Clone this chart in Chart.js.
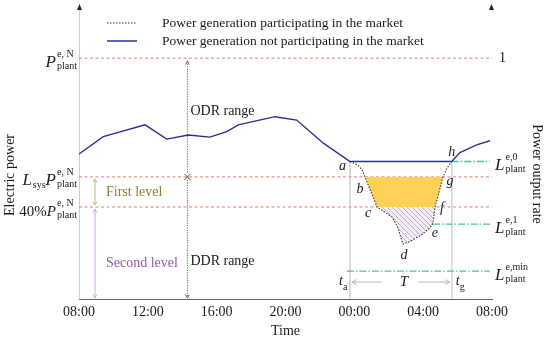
<!DOCTYPE html>
<html><head><meta charset="utf-8">
<script src="https://cdn.jsdelivr.net/npm/chart.js@4"></script>
<style>html,body{margin:0;padding:0;background:#fff}</style>
</head><body>
<canvas id="c" width="550" height="340"></canvas>
<script>
// ---------- data ----------
const timeTickLabels = ['08:00','12:00','16:00','20:00','00:00','04:00','08:00'];
// hours after 08:00 and output rate (P / P_plant^{e,N})
const baseTimes = [0, 1.41, 3.84, 5.10, 6.35, 7.61, 8.58, 9.26, 11.39, 12.65, 14.2, 15.75, 21.66, 22.14, 23.11, 23.88];
const baseRates = [0.602, 0.674, 0.723, 0.664, 0.681, 0.672, 0.695, 0.723, 0.757, 0.743, 0.647, 0.571, 0.571, 0.608, 0.640, 0.657];
const marketTimes = [15.75, 16.21, 16.45, 16.62, 17.32, 17.67, 18.19, 18.54, 18.71, 18.83, 19.24, 19.82, 20.40, 20.57, 20.63, 20.69, 20.92, 21.15, 21.39, 21.66];
const marketRates = [0.571, 0.556, 0.536, 0.507, 0.382, 0.365, 0.341, 0.295, 0.253, 0.228, 0.239, 0.262, 0.295, 0.316, 0.349, 0.382, 0.444, 0.507, 0.544, 0.571];
const keyPointNames = ['a','b','c','d','e','f','g','h'];
const keyPointIndex = [0, 3, 4, 9, 13, 15, 17, 19];
const ratedLevel = 1.0;
const lsysLevel = 0.507;
const fortyLevel = 0.382;
const le0Level = 0.571;
const le1Level = 0.311;
const leMinLevel = 0.116;
const odrTime = 6.3;
const levelArrowTime = 0.93;
const leMinStart = 15.57;
const greenEnd = 23.88;
const axisMax = 24;

// ---------- helpers ----------
const SERIF = '"Liberation Serif","Times New Roman",serif';
const F = (s, it) => (it ? 'italic ' : '') + s + 'px ' + SERIF;
const pts = (xs, ys) => xs.map((x, i) => ({x, y: ys[i]}));
const hline = (y, x0, x1) => [{x: x0, y}, {x: x1, y}];
const vline = (x, y0, y1) => [{x, y: y0}, {x, y: y1}];
const K = {};
keyPointNames.forEach((n, i) => K[n] = keyPointIndex[i]);
const marketPts = pts(marketTimes, marketRates);
const yellowPts = marketPts.slice(K.b, K.c + 1).concat(marketPts.slice(K.f, K.g + 1));
const hatchPts = marketPts.slice(K.c, K.f + 1);
const tA = marketTimes[0], tG = marketTimes[marketTimes.length - 1];

// hatch pattern
const pc = document.createElement('canvas'); pc.width = 5; pc.height = 5;
const pg = pc.getContext('2d');
pg.fillStyle = '#f4eff7'; pg.fillRect(0, 0, 5, 5);
pg.strokeStyle = '#c3abd2'; pg.lineWidth = 1;
for (let k = -1; k <= 1; k++) { pg.beginPath(); pg.moveTo(k * 5, 0); pg.lineTo(k * 5 + 5, 5); pg.stroke(); }
const hatch = document.getElementById('c').getContext('2d').createPattern(pc, 'repeat');

const BLUE = '#2a2f8f';
const RED = '#e07d7d';
const GREEN = '#3cc9a0';
const base = {pointRadius: 0, tension: 0, fill: false};

function seg(ctx, x1, y1, x2, y2) { ctx.beginPath(); ctx.moveTo(x1, y1); ctx.lineTo(x2, y2); ctx.stroke(); }
function head(ctx, x, y, ang, len) {
  const a1 = ang + Math.PI - 0.5, a2 = ang + Math.PI + 0.5;
  ctx.beginPath();
  ctx.moveTo(x + len * Math.cos(a1), y + len * Math.sin(a1));
  ctx.lineTo(x, y);
  ctx.lineTo(x + len * Math.cos(a2), y + len * Math.sin(a2));
  ctx.stroke();
}
function drawSym(ctx, x, lineY, parts, align, ms, ss) {
  ms = ms || 17; ss = ss || 10;
  const w = parts.map(p => {
    ctx.font = F(ms, p.it); const mw = ctx.measureText(p.m).width;
    ctx.font = F(ss, false);
    let ex = 0;
    if (p.sup || p.sub) ex = Math.max(p.sup ? ctx.measureText(p.sup).width : 0, p.sub ? ctx.measureText(p.sub).width : 0) + (p.it ? 1 : 0.5);
    return {mw, ex};
  });
  const total = w.reduce((a, b) => a + b.mw + b.ex, 0);
  let cx = align === 'right' ? x - total : x;
  const bl = lineY + 8.5;
  ctx.textAlign = 'left'; ctx.textBaseline = 'alphabetic';
  parts.forEach((p, i) => {
    ctx.font = F(ms, p.it); ctx.fillText(p.m, cx, bl);
    const sx = cx + w[i].mw + (p.it ? 1 : 0.5);
    ctx.font = F(ss, false);
    if (p.sup) ctx.fillText(p.sup, sx, bl - 10);
    if (p.sub) ctx.fillText(p.sub, sx, bl + (p.sup ? 2 : 3));
    cx += w[i].mw + w[i].ex;
  });
}

const annot = {
  id: 'annot',
  beforeDatasetsDraw(chart) {
    const {ctx, chartArea: ca} = chart;
    ctx.save();
    ctx.strokeStyle = '#cfcfcf'; ctx.lineWidth = 1;
    seg(ctx, ca.left + 0.5, ca.top - 4, ca.left + 0.5, ca.bottom);
    ctx.restore();
  },
  afterDraw(chart) {
    const {ctx, chartArea: ca, scales: {x: xs, y: ys}} = chart;
    const X = v => xs.getPixelForValue(v), Y = v => ys.getPixelForValue(v);
    ctx.save();
    // axis arrow tips
    ctx.fillStyle = '#222';
    [ca.left + 0.5, ca.right - 0.5].forEach(px => {
      ctx.beginPath(); ctx.moveTo(px, ca.top - 6); ctx.lineTo(px - 2.5, ca.top); ctx.lineTo(px + 2.5, ca.top); ctx.closePath(); ctx.fill();
    });
    // legend
    const lx = 107;
    ctx.lineWidth = 1.1; ctx.strokeStyle = '#333'; ctx.setLineDash([1.5, 1.5]);
    seg(ctx, lx, 23, lx + 30, 23);
    ctx.setLineDash([]); ctx.strokeStyle = BLUE; ctx.lineWidth = 1.5;
    seg(ctx, lx, 41, lx + 30, 41);
    ctx.fillStyle = '#1a1a1a'; ctx.font = F(13.5); ctx.textAlign = 'left'; ctx.textBaseline = 'middle';
    ctx.fillText('Power generation participating in the market', 162, 23);
    ctx.fillText('Power generation not participating in the market', 162, 41);

    // ODR / DDR arrows
    const ox = X(odrTime);
    ctx.strokeStyle = '#555'; ctx.lineWidth = 0.9; ctx.setLineDash([1.2, 1.3]);
    seg(ctx, ox, Y(ratedLevel) + 3, ox, Y(lsysLevel) - 3);
    seg(ctx, ox, Y(lsysLevel) + 3, ox, ca.bottom - 1);
    ctx.setLineDash([]);
    head(ctx, ox, Y(ratedLevel) + 3, -Math.PI / 2, 4);
    head(ctx, ox, ca.bottom - 1, Math.PI / 2, 4);
    ctx.strokeStyle = '#333';
    const cy = Y(lsysLevel);
    seg(ctx, ox - 3, cy - 3, ox + 3, cy + 3); seg(ctx, ox - 3, cy + 3, ox + 3, cy - 3);
    ctx.fillStyle = '#1a1a1a'; ctx.font = F(14); ctx.textBaseline = 'middle';
    ctx.fillText('ODR range', ox + 3, Y(0.78));
    ctx.fillText('DDR range', ox + 3, Y(0.155));

    // level arrows
    const lvx = X(levelArrowTime);
    ctx.strokeStyle = '#c2b784'; ctx.lineWidth = 1;
    seg(ctx, lvx, Y(lsysLevel) + 2, lvx, Y(fortyLevel) - 2);
    head(ctx, lvx, Y(lsysLevel) + 2, -Math.PI / 2, 4); head(ctx, lvx, Y(fortyLevel) - 2, Math.PI / 2, 4);
    ctx.strokeStyle = '#cda6dc';
    seg(ctx, lvx, Y(fortyLevel) + 2, lvx, ca.bottom - 1);
    head(ctx, lvx, Y(fortyLevel) + 2, -Math.PI / 2, 4); head(ctx, lvx, ca.bottom - 1, Math.PI / 2, 4);
    ctx.font = F(14);
    ctx.fillStyle = '#8c7b3a';
    ctx.fillText('First level', lvx + 11, (Y(lsysLevel) + Y(fortyLevel)) / 2);
    ctx.fillStyle = '#9656aa';
    ctx.fillText('Second level', lvx + 11, (Y(fortyLevel) + ca.bottom) / 2 + 10);

    // point letters
    const off = {a: [-7.5, 5], b: [-5, 12], c: [-9, 6], d: [1, 11], e: [2, 10], f: [7, 1], g: [7, 4], h: [0, -9]};
    ctx.fillStyle = '#1a1a1a'; ctx.font = F(14, true); ctx.textAlign = 'center';
    keyPointNames.forEach(n => {
      const p = marketPts[K[n]];
      ctx.fillText(n, X(p.x) + off[n][0], Y(p.y) + off[n][1]);
    });

    // T arrow
    const ty = Y(leMinLevel) + 11;
    const xa = X(tA) + 2, xg = X(tG) - 2, xm = (X(tA) + X(tG)) / 2 + 3;
    ctx.strokeStyle = '#b0b0b0'; ctx.lineWidth = 0.9;
    seg(ctx, xa, ty, xm - 22, ty); seg(ctx, xm + 14, ty, xg, ty);
    head(ctx, xa, ty, Math.PI, 5); head(ctx, xg, ty, 0, 5);
    ctx.font = F(15, true); ctx.fillStyle = '#1a1a1a';
    ctx.fillText('T', xm, ty);
    // t_a, t_g
    ctx.textAlign = 'left';
    ctx.font = F(14, true); ctx.fillText('t', X(tA) - 11, ty - 1);
    ctx.font = F(10); ctx.fillText('a', X(tA) - 7, ty + 5);
    ctx.font = F(14, true); ctx.fillText('t', X(tG) + 4, ty - 1);
    ctx.font = F(10); ctx.fillText('g', X(tG) + 8, ty + 5);

    // left labels
    ctx.fillStyle = '#1a1a1a';
    drawSym(ctx, ca.left - 2, Y(ratedLevel), [{m: 'P', it: true, sup: 'e, N', sub: 'plant'}], 'right');
    drawSym(ctx, ca.left - 2, Y(lsysLevel), [{m: 'L', it: true, sub: 'sys'}, {m: 'P', it: true, sup: 'e, N', sub: 'plant'}], 'right');
    drawSym(ctx, ca.left - 2, Y(fortyLevel), [{m: '40%', it: false}, {m: 'P', it: true, sup: 'e, N', sub: 'plant'}], 'right', 15);
    // right labels
    const rx = X(axisMax) + 3;
    ctx.font = F(14); ctx.textAlign = 'left'; ctx.textBaseline = 'middle';
    ctx.fillText('1', rx + 4, Y(ratedLevel));
    drawSym(ctx, rx, Y(le0Level), [{m: 'L', it: true, sup: 'e,0', sub: 'plant'}], 'left');
    drawSym(ctx, rx, Y(le1Level), [{m: 'L', it: true, sup: 'e,1', sub: 'plant'}], 'left');
    drawSym(ctx, rx, Y(leMinLevel), [{m: 'L', it: true, sup: 'e,min', sub: 'plant'}], 'left');

    // axis titles
    ctx.font = F(14); ctx.textAlign = 'center'; ctx.textBaseline = 'middle'; ctx.fillStyle = '#1a1a1a';
    ctx.save(); ctx.translate(10, 175); ctx.rotate(-Math.PI / 2); ctx.fillText('Electric power', 0, 0); ctx.restore();
    ctx.save(); ctx.translate(537, 174); ctx.rotate(Math.PI / 2); ctx.fillText('Power output rate', 0, 0); ctx.restore();
    ctx.restore();
  }
};

new Chart(document.getElementById('c'), {
  type: 'line',
  data: {
    datasets: [
      {...base, label: 'Power generation participating in the market', data: marketPts, borderColor: '#333', borderWidth: 1.1, borderDash: [1.5, 1.5]},
      {...base, label: 'Power generation not participating in the market', data: pts(baseTimes, baseRates), borderColor: BLUE, borderWidth: 1.4},
      {...base, label: 'first', data: yellowPts, borderWidth: 0, backgroundColor: '#fdd058', fill: 'shape'},
      {...base, label: 'second', data: hatchPts, borderWidth: 0, backgroundColor: hatch, fill: 'shape'},
      {...base, data: hline(ratedLevel, 0, axisMax), borderColor: RED, borderWidth: 1, borderDash: [3, 2.5]},
      {...base, data: hline(lsysLevel, 0, axisMax), borderColor: RED, borderWidth: 1, borderDash: [3, 2.5]},
      {...base, data: hline(fortyLevel, 0, axisMax), borderColor: RED, borderWidth: 1, borderDash: [3, 2.5]},
      {...base, data: hline(le0Level, tG, greenEnd), borderColor: GREEN, borderWidth: 1.3, borderDash: [7, 2, 1.5, 2]},
      {...base, data: hline(le1Level, marketTimes[K.e], greenEnd), borderColor: GREEN, borderWidth: 1.3, borderDash: [7, 2, 1.5, 2]},
      {...base, data: hline(leMinLevel, leMinStart, greenEnd), borderColor: GREEN, borderWidth: 1.3, borderDash: [7, 2, 1.5, 2]},
      {...base, data: vline(tA, le0Level, 0), borderColor: '#d6d6d6', borderWidth: 1},
      {...base, data: vline(tG, le0Level, 0), borderColor: '#d6d6d6', borderWidth: 1}
    ]
  },
  options: {
    responsive: false,
    animation: false,
    layout: {padding: {left: 79, right: 58, top: 10, bottom: 0}},
    plugins: {legend: {display: false}, tooltip: {enabled: false}},
    scales: {
      x: {
        type: 'linear', min: 0, max: axisMax,
        ticks: {stepSize: 4, autoSkip: false, maxRotation: 0, padding: 5, color: '#1a1a1a',
          font: {family: SERIF, size: 14}, callback: (v, i) => timeTickLabels[i]},
        grid: {display: false, drawTicks: false},
        border: {display: true, color: '#666', width: 1},
        title: {display: true, text: 'Time', color: '#1a1a1a', font: {family: SERIF, size: 14}, padding: {top: 0, bottom: 0}},
        afterFit: s => { s.height = 41; }
      },
      y: {type: 'linear', min: 0, max: 1.2, display: false}
    }
  },
  plugins: [annot]
});
</script></body></html>
